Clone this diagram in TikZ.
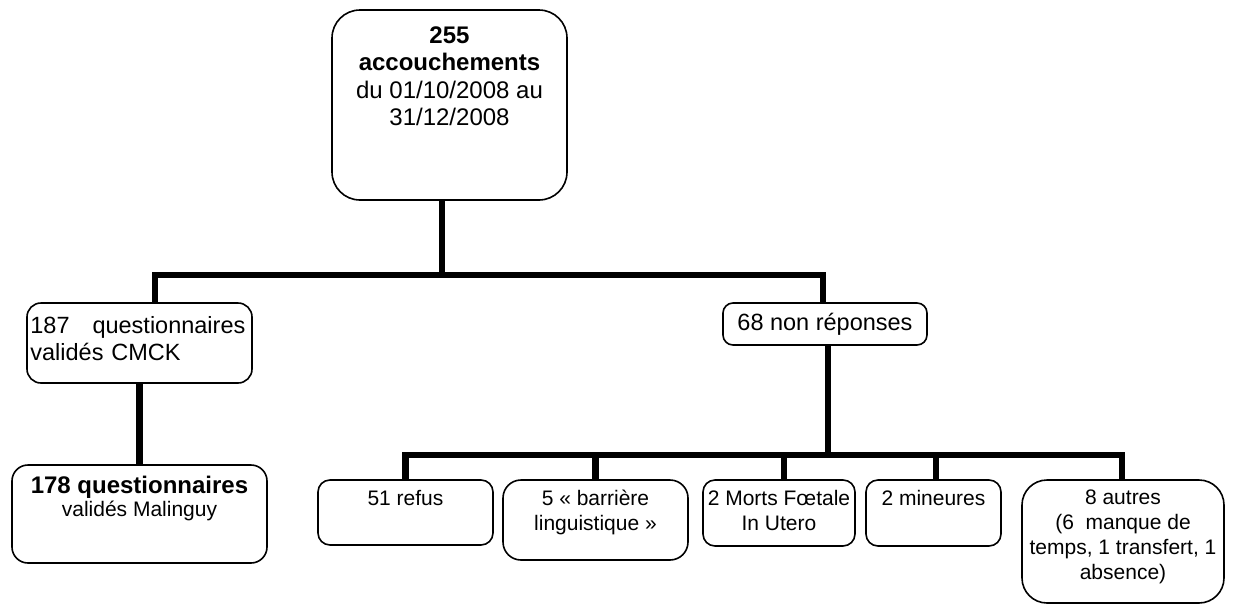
\documentclass[tikz,border=0pt]{standalone}
\usepackage{fontspec}
\setmainfont{Liberation Sans}
\begin{document}
\begin{tikzpicture}[x=1pt,y=-1pt,
  box/.style={draw=black,line width=1.6pt,rectangle,inner sep=0pt,anchor=center},
  conn/.style={line width=6.5pt,line join=miter,line cap=butt},
  txt/.style={inner sep=0pt,align=center,anchor=north},
  big/.style={font=\fontsize{24}{27.5}\selectfont},
  mid/.style={font=\fontsize{23.5}{27}\selectfont},
  small/.style={font=\fontsize{21}{25}\selectfont}]
\useasboundingbox (0,0) rectangle (1237,606);
% boxes
\node[box,rounded corners=28pt,minimum width=235pt,minimum height=190pt] (top) at (449.5,105) {};
\node[box,rounded corners=14pt,minimum width=225pt,minimum height=80pt] (b187) at (139.5,343) {};
\node[box,rounded corners=10pt,minimum width=204pt,minimum height=42pt,mid] (b68) at (825,324) {68 non réponses};
\node[box,rounded corners=16pt,minimum width=255pt,minimum height=98pt] (b178) at (139.5,514) {};
\node[box,rounded corners=12pt,minimum width=175pt,minimum height=65pt] (b51) at (405.5,512.5) {};
\node[box,rounded corners=18pt,minimum width=185pt,minimum height=80pt] (b5) at (595.5,520) {};
\node[box,rounded corners=12pt,minimum width=152pt,minimum height=66pt] (bmfiu) at (779,513) {};
\node[box,rounded corners=12pt,minimum width=135pt,minimum height=66pt] (bmin) at (933.5,513) {};
\node[box,rounded corners=25pt,minimum width=202pt,minimum height=123pt] (b8) at (1123,541.5) {};
% texts
\node[txt,big] (ttop) at ([yshift=-17pt]top.north) {\textbf{255}\\\textbf{accouchements}\\du 01/10/2008 au\\31/12/2008};
\node[inner sep=0pt,anchor=north west,text width=215pt,align=left,mid] (t187) at ([xshift=4pt,yshift=-14pt]b187.north west) {187\hfill questionnaires\\validés CMCK};
\node[txt,font=\fontsize{21}{23}\selectfont] (t178) at ([yshift=-12pt]b178.north) {{\fontsize{24}{24}\selectfont\textbf{178 questionnaires}}\\validés Malinguy};
\node[txt,small] (t51) at ([yshift=-10.5pt]b51.north) {51 refus};
\node[txt,small] (t5) at ([yshift=-10.5pt]b5.north) {5 « barrière\\linguistique »};
\node[txt,small] (tmfiu) at ([yshift=-10.5pt]bmfiu.north) {2 Morts Fœtale\\In Utero};
\node[txt,small] (tmin) at ([yshift=-10.5pt]bmin.north) {2 mineures};
\node[txt,small] (t8) at ([yshift=-10.5pt]b8.north) {8 autres\\(6\ \ manque de\\temps, 1 transfert, 1\\absence)};
% connectors
\coordinate (j1) at (442,275);
\coordinate (j2) at (828,455);
\draw[conn] (top.south -| j1) -- (j1);
\draw[conn] ([xshift=15.5pt]b187.north) |- (j1) -| ([xshift=-2pt]b68.north);
\draw[conn] (b187.south) -- (b178.north);
\draw[conn] (b68.south -| j2) -- (j2);
\draw[conn] (b51.north) |- (j2) -| ([xshift=-1pt]b8.north);
\draw[conn] (b5.north) -- (b5.north |- j2);
\draw[conn] ([xshift=5pt]bmfiu.north) -- ([xshift=5pt]bmfiu.north |- j2);
\draw[conn] ([xshift=2.5pt]bmin.north) -- ([xshift=2.5pt]bmin.north |- j2);
\end{tikzpicture}
\end{document}
